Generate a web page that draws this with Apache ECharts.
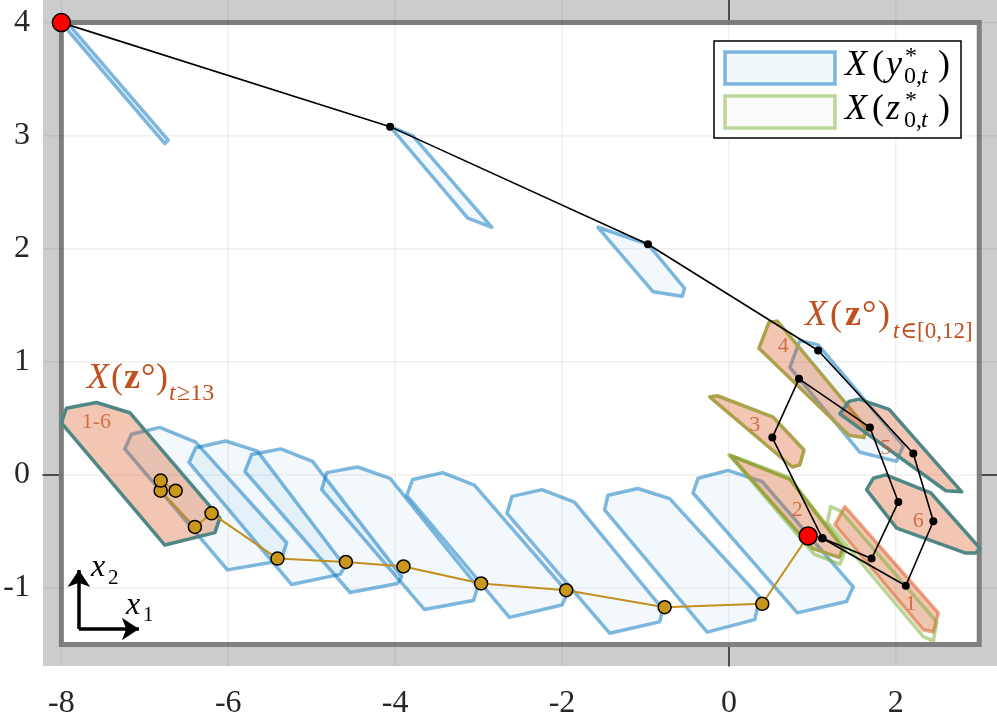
<!DOCTYPE html>
<html>
<head>
<meta charset="utf-8">
<script src="https://cdn.jsdelivr.net/npm/echarts@6/dist/echarts.min.js"></script>
<style>
  html, body { margin: 0; padding: 0; background: #fff; }
  #chart { width: 997px; height: 712px; }
</style>
</head>
<body>
<div id="chart"></div>
<script>
// ticks / frame
const xTicks = [-8, -6, -4, -2, 0, 2];
const yTicks = [-1, 0, 1, 2, 3, 4];
const boxCorners = [[-8, -1.5], [3, -1.5], [3, 4], [-8, 4]];

// X(y*_0,t) sets along the upper trajectory
const blueUpper = [
  [[-7.99, 3.99], [-7.93, 4.0], [-6.72, 2.96], [-6.76, 2.93]],
  [[-4.06, 3.08], [-3.79, 3.0], [-2.84, 2.19], [-3.13, 2.27]],
  [[-1.57, 2.19], [-0.97, 2.04], [-0.53, 1.65], [-0.56, 1.58], [-0.91, 1.62]],
  [[0.85, 1.19], [1.07, 1.15], [2.09, 0.26], [2.01, 0.12], [1.57, 0.2], [0.73, 0.95]]
];
// X(y*_0,t) sets along the lower trajectory
const blueLower = [
  [[-7.24, 0.23], [-7.16, 0.36], [-6.82, 0.42], [-6.39, 0.29], [-5.3, -0.6], [-5.37, -0.76], [-6.01, -0.84]],
  [[-6.47, 0.11], [-6.39, 0.24], [-6.03, 0.3], [-5.65, 0.21], [-4.6, -0.81], [-4.66, -0.88], [-5.24, -0.97]],
  [[-5.8, 0.03], [-5.72, 0.18], [-5.37, 0.23], [-4.99, 0.12], [-3.92, -0.9], [-3.97, -0.96], [-4.54, -1.04]],
  [[-4.88, -0.13], [-4.82, 0.02], [-4.45, 0.07], [-4.06, -0.03], [-3.01, -0.99], [-3.06, -1.11], [-3.65, -1.19]],
  [[-3.86, -0.18], [-3.79, -0.04], [-3.43, 0.02], [-3.05, -0.09], [-1.93, -1.04], [-2.0, -1.15], [-2.63, -1.26]],
  [[-2.66, -0.34], [-2.6, -0.19], [-2.24, -0.13], [-1.85, -0.24], [-0.79, -1.19], [-0.83, -1.3], [-1.43, -1.4]],
  [[-1.49, -0.31], [-1.45, -0.18], [-1.09, -0.12], [-0.71, -0.21], [0.37, -1.08], [0.31, -1.28], [-0.26, -1.39]],
  [[-0.43, -0.16], [-0.37, -0.03], [-0.01, 0.04], [0.4, -0.06], [1.49, -0.99], [1.41, -1.12], [0.82, -1.22]]
];
// X(z*_0,t)
const greenSets = [
  [[0.0, 0.18], [0.72, -0.02], [1.4, -0.66], [1.33, -0.79], [1.02, -0.7]],
  [[1.18, -0.42], [1.22, -0.28], [1.34, -0.32], [2.49, -1.3], [2.45, -1.47], [2.33, -1.43]]
];
// X(z°) sets
const redOrangeSets = [
  [[1.27, -0.44], [1.39, -0.28], [2.51, -1.22], [2.45, -1.39], [2.33, -1.37]]
];
const redOliveSets = [
  [[0.02, 0.17], [0.73, -0.04], [1.37, -0.65], [1.32, -0.73], [1.0, -0.65]],
  [[-0.23, 0.69], [-0.14, 0.7], [0.53, 0.51], [0.9, 0.22], [0.85, 0.09], [0.76, 0.07]],
  [[0.36, 1.12], [0.48, 1.35], [0.58, 1.36], [1.64, 0.42], [1.62, 0.33], [1.44, 0.35]]
];
const redTealSets = [
  [[1.33, 0.54], [1.44, 0.65], [1.56, 0.67], [1.92, 0.58], [2.79, -0.15], [2.6, -0.14]],
  [[1.65, -0.13], [1.73, -0.03], [1.88, 0.0], [2.42, -0.16], [3.01, -0.65], [2.96, -0.69], [2.83, -0.69], [2.01, -0.47]],
  [[-8.0, 0.46], [-7.94, 0.59], [-7.58, 0.64], [-7.18, 0.55], [-6.1, -0.38], [-6.16, -0.51], [-6.76, -0.62]]
];
const setNames = ['1', '2', '3', '4', '5', '6', '1-6'];
const setNameX = [2.18, 0.82, 0.31, 0.65, 1.88, 2.27, -7.58];
const setNameY = [-1.14, -0.31, 0.44, 1.14, 0.24, -0.41, 0.47];

// trajectories
const pathAX = [-8, -4.06, -0.97, 1.07, 2.21, 2.45, 2.12, 1.12];
const pathAY = [4, 3.08, 2.04, 1.1, 0.19, -0.41, -0.98, -0.56];
const pathBX = [1.12, 1.71, 2.03, 1.69, 0.84, 0.52, 1.12];
const pathBY = [-0.56, -0.74, -0.24, 0.42, 0.85, 0.33, -0.56];
const goldX = [0.95, 0.4, -0.77, -1.95, -2.97, -3.9, -4.59, -5.41, -6.2, -6.4, -6.81, -6.81, -6.63];
const goldY = [-0.54, -1.14, -1.17, -1.02, -0.96, -0.81, -0.77, -0.74, -0.34, -0.46, -0.14, -0.05, -0.14];
const startX = [-8, 0.95];
const startY = [4, -0.54];

// x1/x2 direction arrows
const arrowOrigin = [-7.79, -1.363];
const arrowEndX = -7.07;
const arrowEndY = -0.84;

const serif = '"Liberation Serif", "DejaVu Serif", serif';
const zip = (xs, ys) => xs.map((x, i) => [x, ys[i]]);

function polySeries(polys, style, z) {
  return {
    type: 'custom',
    coordinateSystem: 'cartesian2d',
    silent: true,
    z: z,
    data: polys.map((p, i) => [p[0][0], p[0][1], i]),
    renderItem: function (params, api) {
      return {
        type: 'polygon',
        shape: { points: polys[params.dataIndex].map(pt => api.coord(pt)) },
        style: Object.assign({ lineJoin: 'round' }, style)
      };
    }
  };
}

function gridSeries(vals, vertical) {
  return {
    type: 'custom',
    coordinateSystem: 'cartesian2d',
    silent: true,
    z: 1.5,
    data: vals.map(v => vertical ? [v, 0] : [0, v]),
    renderItem: function (params, api) {
      const cs = params.coordSys;
      const p = api.coord([api.value(0), api.value(1)]);
      const shape = vertical
        ? { x1: p[0], y1: cs.y, x2: p[0], y2: cs.y + cs.height }
        : { x1: cs.x, y1: p[1], x2: cs.x + cs.width, y2: p[1] };
      return { type: 'line', shape: shape, style: { stroke: 'rgba(0,0,0,0.06)', lineWidth: 1.5 } };
    }
  };
}

// text runs for the math labels
function txt(x, base, s, size, color, fstyle, weight) {
  return {
    type: 'text', x: x, y: base - 0.305 * size, z: 100,
    style: {
      text: s, fill: color, verticalAlign: 'middle', textAlign: 'left',
      font: (fstyle || 'normal') + ' ' + (weight || 'normal') + ' ' + size + 'px ' + serif
    }
  };
}

const orange = '#c1501f';
const graphics = [
  { type: 'rect', shape: { x: 714, y: 41, width: 247, height: 97 }, z: 90,
    style: { fill: '#fff', stroke: '#000', lineWidth: 1.5 } },
  { type: 'rect', shape: { x: 725, y: 52, width: 110, height: 32 }, z: 91,
    style: { fill: 'rgba(0,114,189,0.06)', stroke: 'rgba(0,114,189,0.5)', lineWidth: 3.5 } },
  { type: 'rect', shape: { x: 725, y: 96, width: 110, height: 32 }, z: 91,
    style: { fill: 'rgba(119,172,48,0.02)', stroke: '#bcd79a', lineWidth: 3.5 } },
  txt(845, 77, 'X', 36, '#000', 'italic'),
  txt(872, 77, '(', 36, '#000'),
  txt(886, 77, 'y', 36, '#000', 'italic'),
  txt(905, 64, '*', 24, '#000'),
  txt(904, 84, '0,', 24, '#000'),
  txt(921, 84, 't', 24, '#000', 'italic'),
  txt(938, 77, ')', 36, '#000'),
  txt(845, 121, 'X', 36, '#000', 'italic'),
  txt(872, 121, '(', 36, '#000'),
  txt(886, 121, 'z', 36, '#000', 'italic'),
  txt(905, 108, '*', 24, '#000'),
  txt(904, 128, '0,', 24, '#000'),
  txt(921, 128, 't', 24, '#000', 'italic'),
  txt(938, 121, ')', 36, '#000'),

  txt(805, 327, 'X', 36, orange, 'italic'),
  txt(830, 327, '(', 36, orange),
  txt(845, 327, 'z', 36, orange, 'normal', 'bold'),
  txt(862, 327, '°', 36, orange),
  txt(878, 327, ')', 36, orange),
  txt(893, 339, 't', 23, orange, 'italic'),
  txt(900, 339, '∈[0,12]', 23, orange),

  txt(87, 390, 'X', 36, orange, 'italic'),
  txt(111, 390, '(', 36, orange),
  txt(124, 390, 'z', 36, orange, 'normal', 'bold'),
  txt(141, 390, '°', 36, orange),
  txt(156, 390, ')', 36, orange),
  txt(169, 401, 't', 24, orange, 'italic'),
  txt(177, 401, '≥13', 24, orange),

  txt(91, 577, 'x', 32, '#000', 'italic'),
  txt(108, 585, '2', 21, '#000'),
  txt(126, 615, 'x', 32, '#000', 'italic'),
  txt(143, 622, '1', 21, '#000')
];

const chart = echarts.init(document.getElementById('chart'));
const option = {
  animation: false,
  grid: {
    left: 43, right: 0, top: 0, bottom: 46, show: true, backgroundColor: '#cccccc', borderWidth: 0,
    containLabel: false, outerBoundsMode: 'none'
  },
  xAxis: {
    type: 'value', min: -8.22, max: 3.213,
    axisLine: { show: true, lineStyle: { color: '#262626', width: 1.5 } },
    axisTick: { show: true, inside: true, length: 10, customValues: xTicks, lineStyle: { color: '#262626', width: 1.5 } },
    axisLabel: { customValues: xTicks, margin: 22, color: '#262626', fontSize: 32, fontFamily: serif },
    splitLine: { show: false }
  },
  yAxis: {
    type: 'value', min: -1.69, max: 4.2,
    axisLine: { show: true, lineStyle: { color: '#262626', width: 1.5 } },
    axisTick: { show: true, inside: true, length: 10, customValues: yTicks, lineStyle: { color: '#262626', width: 1.5 } },
    axisLabel: { customValues: yTicks, margin: 13, color: '#262626', fontSize: 32, fontFamily: serif },
    splitLine: { show: false }
  },
  graphic: graphics,
  series: [
    polySeries([boxCorners], { fill: '#ffffff', stroke: '#808080', lineWidth: 5, lineJoin: 'miter' }, 1),
    gridSeries(xTicks, true),
    gridSeries(yTicks, false),
    polySeries(blueUpper, { fill: 'rgba(0,114,189,0.05)', stroke: 'rgba(0,114,189,0.5)', lineWidth: 3.5 }, 3),
    polySeries(blueLower, { fill: 'rgba(0,114,189,0.05)', stroke: 'rgba(0,114,189,0.5)', lineWidth: 3.5 }, 3),
    polySeries(redOrangeSets, { fill: 'rgba(217,83,25,0.33)', stroke: 'rgba(217,83,25,0.5)', lineWidth: 3.5 }, 4),
    polySeries(redOliveSets, { fill: 'rgba(217,83,25,0.33)', stroke: '#aca24c', lineWidth: 3.5 }, 4),
    polySeries(redTealSets, { fill: 'rgba(217,83,25,0.33)', stroke: '#4e8786', lineWidth: 3.5 }, 4),
    polySeries(greenSets, { fill: 'rgba(119,172,48,0.02)', stroke: 'rgba(119,172,48,0.5)', lineWidth: 3.5 }, 5),
    {
      type: 'scatter', z: 6, silent: true, symbolSize: 0,
      data: setNames.map((n, i) => ({ name: n, value: [setNameX[i], setNameY[i]] })),
      label: { show: true, position: 'inside', formatter: '{b}', color: '#c85a2a', fontSize: 22, fontFamily: serif }
    },
    {
      type: 'line', z: 7, silent: true, data: zip(goldX, goldY),
      symbol: 'circle', symbolSize: 13, showAllSymbol: true,
      lineStyle: { color: '#c18f1c', width: 2 },
      itemStyle: { color: '#c9971c', borderColor: '#000', borderWidth: 1.5 }
    },
    {
      type: 'line', z: 8, silent: true, data: zip(pathAX, pathAY),
      symbol: 'circle', symbolSize: 8, showAllSymbol: true,
      lineStyle: { color: '#000', width: 1.6 }, itemStyle: { color: '#000' }
    },
    {
      type: 'line', z: 8, silent: true, data: zip(pathBX, pathBY),
      symbol: 'circle', symbolSize: 8, showAllSymbol: true,
      lineStyle: { color: '#000', width: 1.6 }, itemStyle: { color: '#000' }
    },
    {
      type: 'scatter', z: 9, silent: true, data: zip(startX, startY),
      symbolSize: 18, itemStyle: { color: '#ff0000', borderColor: '#000', borderWidth: 1.5, opacity: 1 }
    },
    {
      type: 'lines', coordinateSystem: 'cartesian2d', z: 9, silent: true,
      symbol: ['none', 'arrow'], symbolSize: 17,
      lineStyle: { color: '#000', width: 3.5, opacity: 1, curveness: 0 },
      data: [
        { coords: [arrowOrigin, [arrowEndX, arrowOrigin[1]]] },
        { coords: [arrowOrigin, [arrowOrigin[0], arrowEndY]] }
      ]
    }
  ]
};
chart.setOption(option);
</script>
</body>
</html>
